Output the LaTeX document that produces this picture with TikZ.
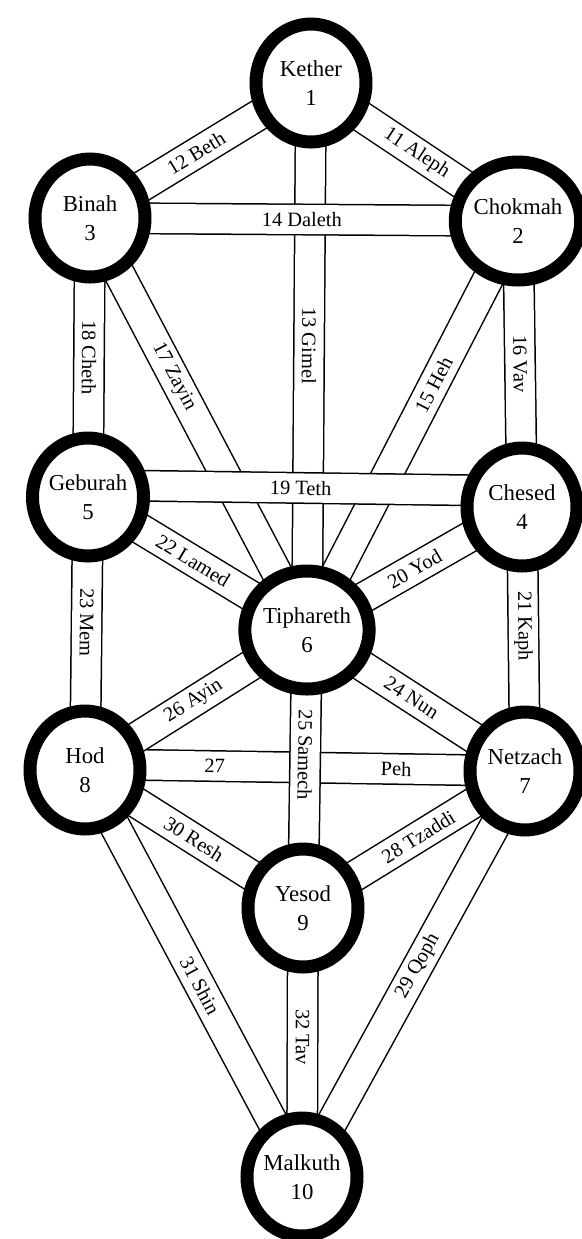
\documentclass[tikz,border=0pt]{standalone}
\usepackage{fontspec}
\setmainfont{Liberation Serif}
\usetikzlibrary{backgrounds,shapes.geometric}

\begin{document}
\begin{tikzpicture}[x=0.5pt,y=-0.5pt,
  sephira/.style={ellipse,draw=black,line width=6.5pt,fill=white,minimum width=55pt,minimum height=59pt,inner sep=0pt,align=center,font=\fontsize{11.4}{14.5}\selectfont},
  channel/.style={draw=black,double=white,double distance=14.5pt,line width=0.75pt},
  chlabel/.style={sloped,allow upside down,inner sep=1pt,font=\fontsize{10.2}{12}\selectfont}]
  \useasboundingbox (0,0) rectangle (582,1239);
  % the ten sephiroth
  \foreach \n/\name/\num/\x/\y in {kether/Kether/1/311/83, chokmah/Chokmah/2/518/221, binah/Binah/3/90/218,
      chesed/Chesed/4/522/507, geburah/Geburah/5/88/497, tiphareth/Tiphareth/6/307/630,
      netzach/Netzach/7/525/771, hod/Hod/8/85/770, yesod/Yesod/9/303/908, malkuth/Malkuth/10/302/1177}{
    \node[sephira] (\n) at (\x,\y) {\name\\\num};
  }
  % the 22 paths, later ones lie over earlier ones
  \begin{pgfonlayer}{background}
    \draw[channel] ([yshift=3pt]hod.center) -- (netzach.center)
      node[chlabel,pos=0.295] {27} node[chlabel,pos=0.707] {Peh};
    \foreach \a/\b/\p/\lab in {kether/chokmah/0.51/11 Aleph, binah/kether/0.48/12 Beth,
        kether/tiphareth/0.48/13 Gimel, binah/tiphareth/0.386/17 Zayin, tiphareth/chokmah/0.6/15 Heh,
        binah/chokmah/0.495/14 Daleth, chokmah/chesed/0.5/16 Vav, binah/geburah/0.5/18 Cheth,
        tiphareth/chesed/0.5/20 Yod, chesed/netzach/0.45/21 Kaph,
        geburah/tiphareth/0.48/22 Lamed, geburah/hod/0.46/23 Mem, tiphareth/netzach/0.48/24 Nun,
        tiphareth/yesod/0.45/25 Samech, hod/tiphareth/0.49/26 Ayin, yesod/netzach/0.52/28 Tzaddi,
        malkuth/netzach/0.52/29 Qoph, hod/yesod/0.5/30 Resh, hod/malkuth/0.53/31 Shin,
        yesod/malkuth/0.48/32 Tav}{
      \draw[channel] (\a.center) -- (\b.center) node[chlabel,pos=\p] {\lab};
    }
    \draw[channel] ([yshift=6pt]geburah.center) -- ([yshift=8pt]chesed.center)
      node[chlabel,pos=0.49] {19 Teth};
  \end{pgfonlayer}
\end{tikzpicture}
\end{document}
